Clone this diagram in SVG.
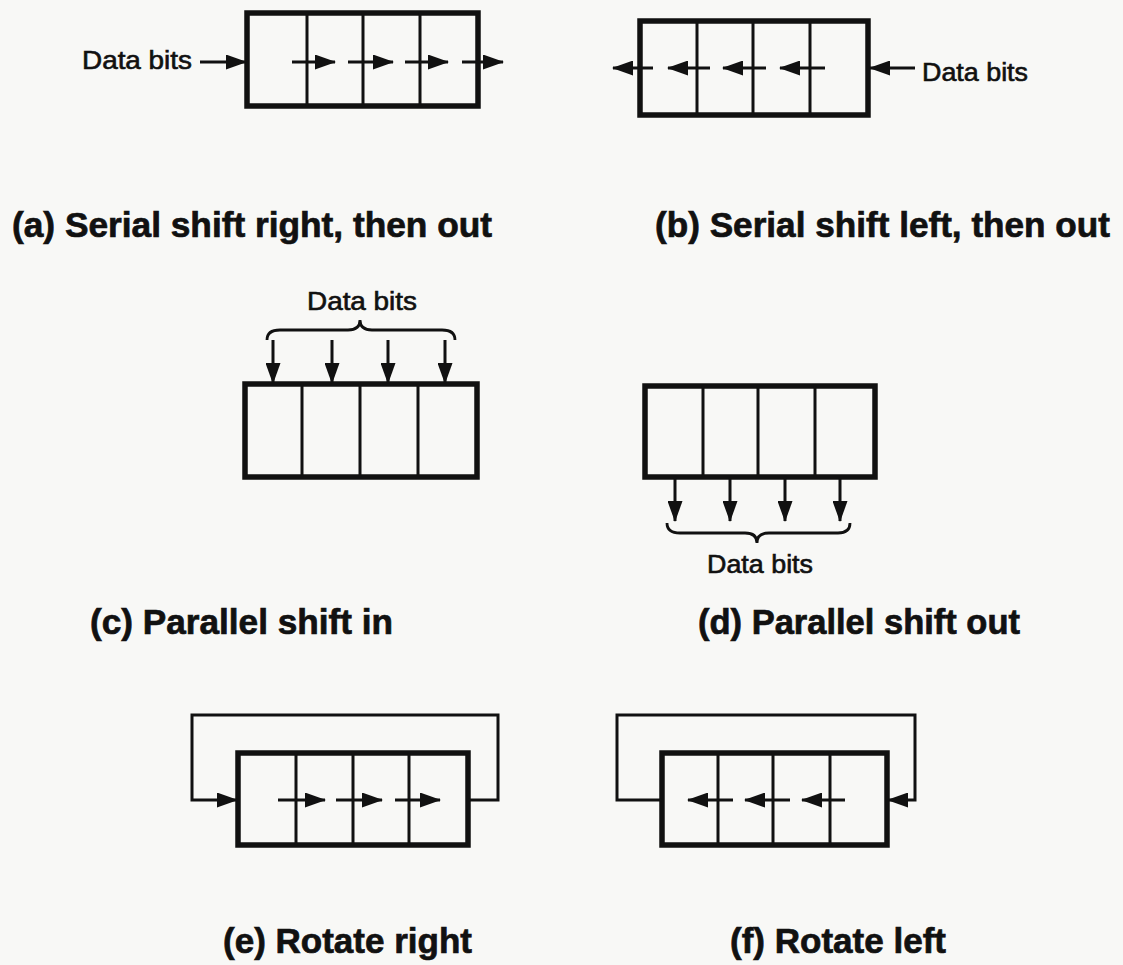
<svg xmlns="http://www.w3.org/2000/svg" width="1123" height="965" viewBox="0 0 1123 965">
<defs>
<marker id="ah" viewBox="0 0 21 15" refX="20" refY="7.5" markerWidth="21" markerHeight="15" markerUnits="userSpaceOnUse" orient="auto">
<path d="M0,0 L21,7.5 L0,15 Z" fill="#111"/>
</marker>
<style>
.box{fill:none;stroke:#111;stroke-width:5.5}
.div{stroke:#111;stroke-width:3}
.arr{fill:none;stroke:#111;stroke-width:3;marker-end:url(#ah)}
.ln{fill:none;stroke:#111;stroke-width:2.8}
.cap{font-family:"Liberation Sans",Arial,sans-serif;font-weight:bold;font-size:35px;fill:#111;stroke:#111;stroke-width:0.7}
.db{font-family:"Liberation Sans",Arial,sans-serif;font-size:25px;fill:#111;stroke:#111;stroke-width:0.6}
</style>
</defs>
<rect width="1123" height="965" fill="#f8f8f6"/>

<g id="reg-a">
<rect class="box" x="247" y="13" width="231" height="93"/>
<line class="div" x1="307" y1="13" x2="307" y2="106"/>
<line class="div" x1="363" y1="13" x2="363" y2="106"/>
<line class="div" x1="420" y1="13" x2="420" y2="106"/>
<text class="db" x="82" y="69" textLength="110" lengthAdjust="spacingAndGlyphs">Data bits</text>
<text class="cap" x="12" y="237" textLength="480" lengthAdjust="spacingAndGlyphs">(a) Serial shift right, then out</text>
</g>

<g id="reg-b">
<rect class="box" x="640" y="21" width="228" height="94"/>
<line class="div" x1="697" y1="21" x2="697" y2="115"/>
<line class="div" x1="753" y1="21" x2="753" y2="115"/>
<line class="div" x1="810" y1="21" x2="810" y2="115"/>
<text class="db" x="922" y="81" textLength="106" lengthAdjust="spacingAndGlyphs">Data bits</text>
<text class="cap" x="655" y="237" textLength="455" lengthAdjust="spacingAndGlyphs">(b) Serial shift left, then out</text>
</g>

<g id="reg-c">
<rect class="box" x="245" y="384" width="232" height="93"/>
<line class="div" x1="302" y1="384" x2="302" y2="477"/>
<line class="div" x1="360" y1="384" x2="360" y2="477"/>
<line class="div" x1="418" y1="384" x2="418" y2="477"/>
<text class="db" x="307" y="310" textLength="110" lengthAdjust="spacingAndGlyphs">Data bits</text>
<text class="cap" x="90" y="634" textLength="303" lengthAdjust="spacingAndGlyphs">(c) Parallel shift in</text>
</g>

<g id="reg-d">
<rect class="box" x="645" y="386" width="230" height="91"/>
<line class="div" x1="703" y1="386" x2="703" y2="477"/>
<line class="div" x1="758" y1="386" x2="758" y2="477"/>
<line class="div" x1="815" y1="386" x2="815" y2="477"/>
<text class="db" x="707" y="573" textLength="106" lengthAdjust="spacingAndGlyphs">Data bits</text>
<text class="cap" x="698" y="634" textLength="322" lengthAdjust="spacingAndGlyphs">(d) Parallel shift out</text>
</g>

<g id="reg-e">
<rect class="box" x="238" y="753" width="230" height="92"/>
<line class="div" x1="296" y1="753" x2="296" y2="845"/>
<line class="div" x1="353" y1="753" x2="353" y2="845"/>
<line class="div" x1="409" y1="753" x2="409" y2="845"/>
<text class="cap" x="223" y="953" textLength="249" lengthAdjust="spacingAndGlyphs">(e) Rotate right</text>
</g>

<g id="reg-f">
<rect class="box" x="662" y="753" width="225" height="92"/>
<line class="div" x1="718" y1="753" x2="718" y2="845"/>
<line class="div" x1="773" y1="753" x2="773" y2="845"/>
<line class="div" x1="830" y1="753" x2="830" y2="845"/>
<text class="cap" x="730" y="953" textLength="216" lengthAdjust="spacingAndGlyphs">(f) Rotate left</text>
</g>

<g id="connectors">
<line class="arr" x1="200" y1="62" x2="246" y2="62"/>
<line class="arr" x1="292" y1="62" x2="335" y2="62"/>
<line class="arr" x1="348" y1="62" x2="393" y2="62"/>
<line class="arr" x1="405" y1="62" x2="448" y2="62"/>
<line class="arr" x1="462" y1="62" x2="503" y2="62"/>
<line class="arr" x1="653" y1="68" x2="613" y2="68"/>
<line class="arr" x1="710" y1="68" x2="668" y2="68"/>
<line class="arr" x1="766" y1="68" x2="723" y2="68"/>
<line class="arr" x1="825" y1="68" x2="780" y2="68"/>
<line class="arr" x1="915" y1="68" x2="870" y2="68"/>
<path class="ln" d="M267,340 Q267,330 280,330 L348,330 Q360,330 360,320 Q360,330 372,330 L442,330 Q455,330 455,340"/>
<line class="arr" x1="273" y1="340" x2="273" y2="383"/>
<line class="arr" x1="332" y1="340" x2="332" y2="383"/>
<line class="arr" x1="388" y1="340" x2="388" y2="383"/>
<line class="arr" x1="445" y1="340" x2="445" y2="383"/>
<line class="arr" x1="675" y1="478" x2="675" y2="521"/>
<line class="arr" x1="730" y1="478" x2="730" y2="521"/>
<line class="arr" x1="785" y1="478" x2="785" y2="521"/>
<line class="arr" x1="840" y1="478" x2="840" y2="521"/>
<path class="ln" d="M667,523 Q667,533 680,533 L745,533 Q757,533 757,543 Q757,533 769,533 L838,533 Q850,533 850,523"/>
<path class="arr" d="M468,800 H498 V715 H192 V800 H237"/>
<line class="arr" x1="278" y1="800" x2="325" y2="800"/>
<line class="arr" x1="336" y1="800" x2="382" y2="800"/>
<line class="arr" x1="395" y1="800" x2="440" y2="800"/>
<path class="arr" d="M662,800 H617 V715 H915 V800 H888"/>
<line class="arr" x1="733" y1="800" x2="688" y2="800"/>
<line class="arr" x1="790" y1="800" x2="745" y2="800"/>
<line class="arr" x1="845" y1="800" x2="802" y2="800"/>
</g>
</svg>
